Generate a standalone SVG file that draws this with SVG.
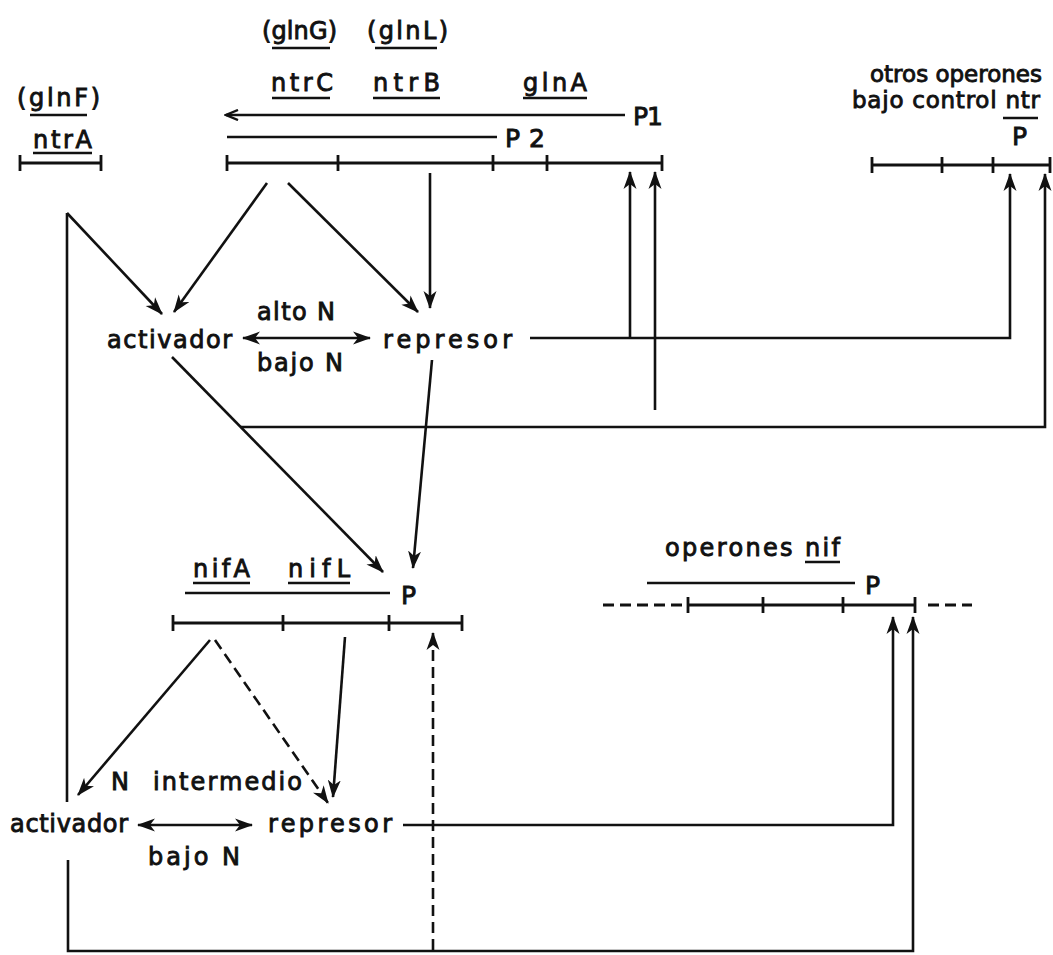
<svg xmlns="http://www.w3.org/2000/svg" width="1053" height="955" viewBox="0 0 1053 955">
<style>
text{font-family:"DejaVu Sans","Liberation Sans",Arial,sans-serif;font-size:24px;fill:#111;stroke:#111;stroke-width:0.9}
text.p{font-size:25px}
text.s{font-size:23px}
.ln{stroke:#111;stroke-width:2.6;fill:none;stroke-linecap:butt}
.ul{stroke:#111;stroke-width:2.6}
.dash{stroke-dasharray:11 6}
.bar{stroke:#111;stroke-width:2.8;fill:none}
</style>
<defs>
<marker id="ah" viewBox="0 0 18 14" refX="17" refY="7" markerWidth="18" markerHeight="14" markerUnits="userSpaceOnUse" orient="auto-start-reverse">
<path d="M0,0.5 L18,7 L0,13.5 L5,7 z" fill="#111"/>
</marker>
<marker id="oa" viewBox="0 0 16 12" refX="14" refY="6" markerWidth="16" markerHeight="12" markerUnits="userSpaceOnUse" orient="auto-start-reverse">
<path d="M2,1 L14,6 L2,11" fill="none" stroke="#111" stroke-width="2.4"/>
</marker>
</defs>
<rect width="1053" height="955" fill="#fff"/>

<g id="gene-ntrA">
<text x="17" y="106" textLength="83" lengthAdjust="spacing">(glnF)</text>
<line class="ul" x1="30" y1="115" x2="87" y2="115"/>
<text x="33" y="148" textLength="59" lengthAdjust="spacing">ntrA</text>
<line class="ul" x1="33" y1="153" x2="92" y2="153"/>
<path class="bar" d="M20,163 H101 M20,155 V171 M101,155 V171"/>
</g>

<g id="operon-glnA">
<text x="262" y="39" textLength="75" lengthAdjust="spacing">(glnG)</text>
<line class="ul" x1="272" y1="48" x2="330" y2="48"/>
<text x="367" y="39" textLength="81" lengthAdjust="spacing">(glnL)</text>
<line class="ul" x1="375" y1="48" x2="437" y2="48"/>
<text x="271" y="91" textLength="62" lengthAdjust="spacing">ntrC</text>
<line class="ul" x1="272" y1="98" x2="330" y2="98"/>
<text x="373" y="91" textLength="67" lengthAdjust="spacing">ntrB</text>
<line class="ul" x1="373" y1="98" x2="440" y2="98"/>
<text x="523" y="91" textLength="64" lengthAdjust="spacing">glnA</text>
<line class="ul" x1="523" y1="98" x2="587" y2="98"/>
<text class="p" x="633" y="125" textLength="30" lengthAdjust="spacing">P1</text>
<text class="p" x="505" y="147" textLength="40" lengthAdjust="spacing">P2</text>
<path class="bar" d="M227,163 H662 M227,155 V171 M338,155 V171 M493,155 V171 M547,155 V171 M662,155 V171"/>
</g>

<g id="operon-otros">
<text class="s" x="870" y="82" textLength="172" lengthAdjust="spacing">otros operones</text>
<text class="s" x="852" y="108" textLength="188" lengthAdjust="spacing">bajo control ntr</text>
<line class="ul" x1="1003" y1="118" x2="1038" y2="118"/>
<text class="p" x="1012" y="145">P</text>
<path class="bar" d="M872,165 H1050 M872,157 V173 M942,157 V173 M993,157 V173 M1050,157 V173"/>
</g>

<g id="activador-1">
<text x="107" y="348" textLength="125" lengthAdjust="spacing">activador</text>
</g>
<g id="represor-1">
<text x="383" y="348" textLength="129" lengthAdjust="spacing">represor</text>
</g>
<g id="label-alto-bajo-1">
<text x="257" y="320" textLength="78" lengthAdjust="spacing">alto N</text>
<text x="257" y="371" textLength="86" lengthAdjust="spacing">bajo N</text>
</g>

<g id="operon-nifLA">
<text x="193" y="577" textLength="57" lengthAdjust="spacing">nifA</text>
<line class="ul" x1="193" y1="583" x2="250" y2="583"/>
<text x="288" y="577" textLength="62" lengthAdjust="spacing">nifL</text>
<line class="ul" x1="288" y1="583" x2="350" y2="583"/>
<line class="ln" x1="185" y1="593" x2="390" y2="593"/>
<text class="p" x="401" y="604">P</text>
<path class="bar" d="M173,623 H462 M173,615 V631 M283,615 V631 M389,615 V631 M462,615 V631"/>
</g>

<g id="operones-nif">
<text x="665" y="556" textLength="175" lengthAdjust="spacing">operones nif</text>
<line class="ul" x1="805" y1="562" x2="840" y2="562"/>
<line class="ln" x1="647" y1="583" x2="855" y2="583"/>
<text class="p" x="865" y="594">P</text>
<path class="bar" d="M688,605 H915 M688,597 V613 M763,597 V613 M843,597 V613 M915,597 V613"/>
<path class="bar dash" d="M603,605 H688 M928,605 H972"/>
</g>

<g id="label-intermedio">
<text x="111" y="790">N</text>
<text x="153" y="790" textLength="149" lengthAdjust="spacing">intermedio</text>
</g>
<g id="activador-2">
<text x="10" y="832" textLength="118" lengthAdjust="spacing">activador</text>
</g>
<g id="represor-2">
<text x="268" y="832" textLength="124" lengthAdjust="spacing">represor</text>
</g>
<g id="label-bajo-2">
<text x="148" y="865" textLength="92" lengthAdjust="spacing">bajo N</text>
</g>

<g id="connectors">
<line class="ln" x1="625" y1="115" x2="226" y2="115" marker-end="url(#oa)"/>
<line class="ln" x1="227" y1="137" x2="497" y2="137"/>
<line class="ln" x1="67" y1="213" x2="67" y2="802"/>
<line class="ln" x1="67" y1="213" x2="162" y2="314" marker-end="url(#ah)"/>
<line class="ln" x1="267" y1="183" x2="174" y2="312" marker-end="url(#ah)"/>
<line class="ln" x1="288" y1="183" x2="418" y2="312" marker-end="url(#ah)"/>
<line class="ln" x1="430" y1="173" x2="430" y2="308" marker-end="url(#ah)"/>
<line class="ln" x1="243" y1="338" x2="370" y2="338" marker-start="url(#ah)" marker-end="url(#ah)"/>
<path class="ln" d="M530,338 H1010 V174" marker-end="url(#ah)"/>
<line class="ln" x1="630" y1="338" x2="630" y2="172" marker-end="url(#ah)"/>
<line class="ln" x1="172" y1="357" x2="383" y2="572" marker-end="url(#ah)"/>
<path class="ln" d="M241,427 H1045 V174" marker-end="url(#ah)"/>
<line class="ln" x1="655" y1="410" x2="655" y2="172" marker-end="url(#ah)"/>
<line class="ln" x1="432" y1="360" x2="413" y2="568" marker-end="url(#ah)"/>
<line class="ln" x1="210" y1="640" x2="78" y2="795" marker-end="url(#ah)"/>
<line class="ln dash" x1="215" y1="640" x2="328" y2="803" marker-end="url(#ah)"/>
<line class="ln" x1="345" y1="637" x2="333" y2="797" marker-end="url(#ah)"/>
<line class="ln" x1="138" y1="825" x2="252" y2="825" marker-start="url(#ah)" marker-end="url(#ah)"/>
<path class="ln" d="M403,825 H893 V617" marker-end="url(#ah)"/>
<path class="ln" d="M68,860 V951 H913 V617" marker-end="url(#ah)"/>
<line class="ln dash" x1="433" y1="950" x2="433" y2="633" marker-end="url(#ah)"/>
</g>
</svg>
